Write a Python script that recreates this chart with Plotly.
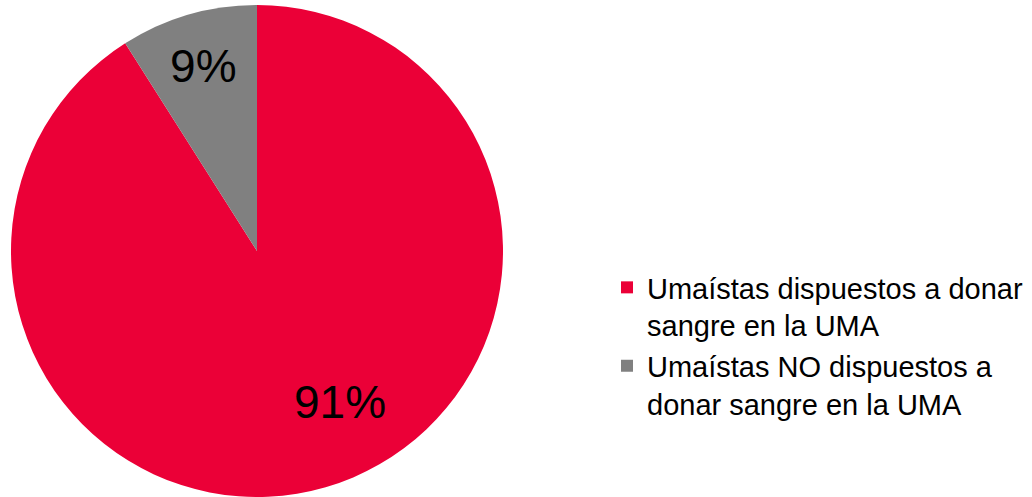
import math
import plotly.graph_objects as go

labels = ["Umaístas dispuestos a donar<br>sangre en la UMA",
          "Umaístas NO dispuestos a<br>donar sangre en la UMA"]
values = [91, 9]
colors = ["#EB0037", "#808080"]

# label placement style (fraction of radius, angular shift in degrees)
label_r = [0.70, None]
label_shift = [-12.8, 0]

W, H = 1032, 497
dom_x = [11/1032, 503/1032]
dom_y = [0.0, 0.99]

total = sum(values)
fig = go.Figure(go.Pie(
    labels=labels,
    values=values,
    sort=False,
    direction="clockwise",
    rotation=0,
    marker=dict(colors=colors, line=dict(width=0)),
    texttemplate="%{percent:.0%}",
    textposition=["none", "inside"],
    insidetextorientation="horizontal",
    textfont=dict(family="Liberation Sans, Arial, sans-serif", size=46, color="#000000"),
    domain=dict(x=dom_x, y=dom_y),
    hoverinfo="skip",
))

# annotation for the large slice, positioned from the data
cx = (dom_x[0] + dom_x[1]) / 2 * W
cy = (dom_y[0] + dom_y[1]) / 2 * H
rad = min((dom_x[1]-dom_x[0]) * W, (dom_y[1]-dom_y[0]) * H) / 2
cum = 0
for v, rf, sh in zip(values, label_r, label_shift):
    mid = (cum + v / 2) / total * 360 + sh
    cum += v
    if rf is None:
        continue
    px = cx + rf * rad * math.sin(math.radians(mid))
    py = cy + rf * rad * math.cos(math.radians(mid))
    fig.add_annotation(
        x=px / W, y=py / H, xref="paper", yref="paper",
        text=f"{round(v / total * 100)}%", showarrow=False,
        font=dict(family="Liberation Sans, Arial, sans-serif", size=46, color="#000000"),
        xanchor="center", yanchor="middle",
    )

fig.update_layout(
    width=W, height=H,
    margin=dict(l=0, r=0, t=0, b=0),
    paper_bgcolor="white",
    plot_bgcolor="white",
    showlegend=True,
    legend=dict(
        x=607/1032, xanchor="left",
        y=(497-262)/497, yanchor="top",
        valign="top",
        font=dict(family="Liberation Sans, Arial, sans-serif", size=29, color="#000000"),
        bgcolor="rgba(0,0,0,0)",
    ),
)

fig.write_html("out.html")
